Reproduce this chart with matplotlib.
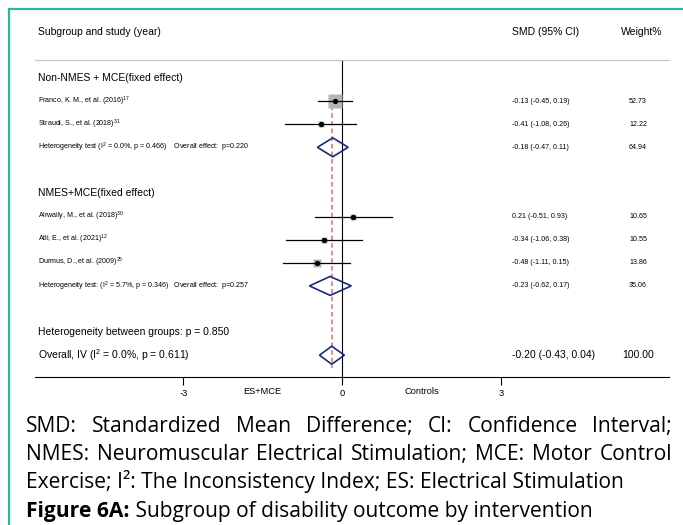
import matplotlib
matplotlib.use("Agg")
import matplotlib.pyplot as plt
from matplotlib.lines import Line2D
from matplotlib.patches import Polygon
import matplotlib.transforms as mtransforms

plt.rcParams['font.family'] = ['Liberation Sans', 'DejaVu Sans']
plt.rcParams['mathtext.fontset'] = 'custom'
plt.rcParams['mathtext.rm'] = 'Liberation Sans'
plt.rcParams['mathtext.it'] = 'Liberation Sans'

# ---- data ----
groups = ["Non-NMES + MCE(fixed effect)", "NMES+MCE(fixed effect)"]
study_names = ["Franco, K. M., et al. (2016)", "Straudi, S., et al. (2018)",
               "Alrwaily, M., et al. (2018)", "Atli, E., et al. (2021)",
               "Durmus, D., et al. (2009)"]
study_refs = ["17", "31", "30", "12", "25"]
study_group = [0, 0, 1, 1, 1]
study_smd = [-0.13, -0.41, 0.21, -0.34, -0.48]
study_lo = [-0.45, -1.08, -0.51, -1.06, -1.11]
study_hi = [0.19, 0.26, 0.93, 0.38, 0.15]
study_w = [52.73, 12.22, 10.65, 10.55, 13.86]

sub_smd = [-0.18, -0.23]
sub_lo = [-0.47, -0.62]
sub_hi = [0.11, 0.17]
sub_w = [64.94, 35.06]
sub_het = ["Heterogeneity test (I$^2$ = 0.0%, p = 0.466)    Overall effect:  p=0.220",
           "Heterogeneity test: (I$^2$ = 5.7%, p = 0.346)   Overall effect:  p=0.257"]

between_text = "Heterogeneity between groups: p = 0.850"
overall_label = "Overall, IV (I$^2$ = 0.0%, p = 0.611)"
overall_smd, overall_lo, overall_hi, overall_w = -0.20, -0.43, 0.04, 100.00

xticks = [-3, 0, 3]
favours = ["ES+MCE", "Controls"]

caption_lines = [
    "SMD: Standardized Mean Difference; CI: Confidence Interval;",
    "NMES: Neuromuscular Electrical Stimulation; MCE: Motor Control",
    "Exercise; I\u00b2: The Inconsistency Index; ES: Electrical Stimulation",
]
caption_bold = "Figure 6A:"
caption_last = " Subgroup of disability outcome by intervention"

W, H = 683, 525
fig = plt.figure(figsize=(W / 100, H / 100), dpi=100)

# axes placed in pixel terms
ax_l, ax_r, ax_t, ax_b = 35, 669, 60, 377
ax = fig.add_axes([ax_l / W, 1 - ax_b / H, (ax_r - ax_l) / W, (ax_b - ax_t) / H])
ppu = 53.0
x0 = 342.3
ax.set_xlim((ax_l - x0) / ppu, (ax_r - x0) / ppu)
row_px = 23.1
ax.set_ylim((ax_b - 78) / row_px, (ax_t - 78) / row_px)

for s in ['left', 'right']:
    ax.spines[s].set_visible(False)
ax.spines['top'].set_color('#c4c4c4')
ax.spines['top'].set_linewidth(0.9)
ax.spines['bottom'].set_linewidth(0.8)
ax.set_yticks([])
ax.set_xticks(xticks)
ax.set_xticklabels([str(t) for t in xticks], fontsize=6.7)
ax.tick_params(axis='x', length=6, width=0.8, pad=3)

tx = mtransforms.blended_transform_factory(ax.transAxes, ax.transData)
lab_x = 0.005
smd_x = (511.5 - ax_l) / (ax_r - ax_l)
w_x = (638 - ax_l) / (ax_r - ax_l)

navy = '#1c2a7e'
small = 5.1


def diamond(c, lo, hi, y, h=0.41):
    ax.add_patch(Polygon([[lo, y], [c, y - h], [hi, y], [c, y + h]], closed=True,
                         fill=False, edgecolor=navy, lw=1.2, zorder=4))


# build rows
row = 0
for g in range(len(groups)):
    ax.text(lab_x, row, groups[g], transform=tx, fontsize=7.5, va='center', ha='left')
    row += 1
    for i in range(len(study_names)):
        if study_group[i] != g:
            continue
        ax.text(lab_x, row, study_names[i] + "$^{" + study_refs[i] + "}$", transform=tx,
                fontsize=small, va='center', ha='left')
        ax.plot([study_lo[i], study_hi[i]], [row, row], color='black', lw=0.9, zorder=3)
        side = 10 * (study_w[i] / 52.73) ** 0.5
        ax.plot(study_smd[i], row, marker='s', ms=side, color='#b5b5b5', mec='none', zorder=2)
        ax.plot(study_smd[i], row, marker='o', ms=2.8, color='black', zorder=4)
        ax.text(smd_x, row, f"{study_smd[i]:.2f} ({study_lo[i]:.2f}, {study_hi[i]:.2f})",
                transform=tx, fontsize=small, va='center', ha='left')
        ax.text(w_x, row, f"{study_w[i]:.2f}", transform=tx, fontsize=small, va='center',
                ha='center')
        row += 1
    ax.text(lab_x, row, sub_het[g], transform=tx, fontsize=small, va='center', ha='left')
    diamond(sub_smd[g], sub_lo[g], sub_hi[g], row)
    ax.text(smd_x, row, f"{sub_smd[g]:.2f} ({sub_lo[g]:.2f}, {sub_hi[g]:.2f})",
            transform=tx, fontsize=small, va='center', ha='left')
    ax.text(w_x, row, f"{sub_w[g]:.2f}", transform=tx, fontsize=small, va='center', ha='center')
    row += 2

first_row = 1
ax.text(lab_x, row, between_text, transform=tx, fontsize=7.5, va='center', ha='left')
row += 1
ax.text(lab_x, row, overall_label, transform=tx, fontsize=7.5, va='center', ha='left')
diamond(overall_smd, overall_lo, overall_hi, row, h=0.39)
ax.text(smd_x, row, f"{overall_smd:.2f} ({overall_lo:.2f}, {overall_hi:.2f})",
        transform=tx, fontsize=7.5, va='center', ha='left')
ax.text(w_x, row, f"{overall_w:.2f}", transform=tx, fontsize=7.5, va='center', ha='center')

# reference lines
ax.axvline(0, color='black', lw=0.8, zorder=1)
ax.vlines(overall_smd, first_row - 0.15, row + 0.55, colors='#c97575', lw=1.1,
          linestyles=(0, (3, 2)), zorder=1)

# headers
hdr_y = (32 - 78) / row_px
ax.text(lab_x, hdr_y, "Subgroup and study (year)", transform=tx, fontsize=7.5,
        va='center', ha='left', clip_on=False)
ax.text(smd_x, hdr_y, "SMD (95% CI)", transform=tx, fontsize=7.5, va='center', ha='left',
        clip_on=False)
ax.text((642 - ax_l) / (ax_r - ax_l), hdr_y, "Weight%", transform=tx, fontsize=7.5,
        va='center', ha='center', clip_on=False)

# favours labels under axis
fy = mtransforms.blended_transform_factory(ax.transData, ax.transAxes)
ax.text(-1.5, -14 / (ax_b - ax_t), favours[0], transform=fy, fontsize=6.7, ha='center',
        va='center', clip_on=False)
ax.text(1.5, -14 / (ax_b - ax_t), favours[1], transform=fy, fontsize=6.7, ha='center',
        va='center', clip_on=False)

# teal frame
teal = '#25b89c'
fig.add_artist(Line2D([9 / W, 9 / W], [0, 1 - 9 / H], color=teal, lw=1.6))
fig.add_artist(Line2D([9 / W, 1], [1 - 9 / H, 1 - 9 / H], color=teal, lw=1.6))

# caption
cap_font = ['Open Sans', 'DejaVu Sans']
r = fig.canvas.get_renderer()
c_left, c_right = 26, 672
base_y = [432, 460, 488, 517]

probe = fig.text(0, 0, caption_lines[2], family=cap_font, fontsize=13)
wid = probe.get_window_extent(r).width
probe.remove()
cap_size = 13 * (622 - c_left) / wid


def justify(line, ypx):
    words = line.split(" ")
    ts = [fig.text(0, 1 - ypx / H, w, family=cap_font, fontsize=cap_size, va='baseline')
          for w in words]
    ws = [t.get_window_extent(r).width for t in ts]
    gap = ((c_right - c_left) - sum(ws)) / (len(ws) - 1)
    x = c_left
    for t, w in zip(ts, ws):
        t.set_x(x / W)
        x += w + gap


justify(caption_lines[0], base_y[0])
justify(caption_lines[1], base_y[1])
fig.text(c_left / W, 1 - base_y[2] / H, caption_lines[2], family=cap_font, fontsize=cap_size,
         va='baseline')
tb = fig.text(c_left / W, 1 - base_y[3] / H, caption_bold, family=cap_font, fontsize=cap_size,
              fontweight='bold', va='baseline')
bw = tb.get_window_extent(r).width
fig.text((c_left + bw) / W, 1 - base_y[3] / H, caption_last, family=cap_font, fontsize=cap_size,
         va='baseline')

fig.savefig("out.png", dpi=100)
